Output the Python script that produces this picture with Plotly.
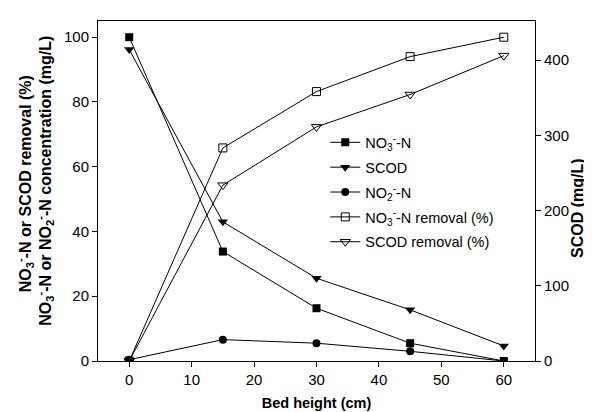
import plotly.graph_objects as go

bed_height = [0, 15, 30, 45, 60]
no3_n = [100, 33.8, 16.3, 5.5, 0]
scod = [414, 185, 110, 68, 20]
no2_n = [0.4, 6.6, 5.5, 3.0, 0]
no3_removal = [0, 65.8, 83.2, 94.0, 100]
scod_removal = [0, 54.3, 72.3, 82.3, 94.3]

names = ["NO<sub>3</sub><sup>-</sup>-N", "SCOD", "NO<sub>2</sub><sup>-</sup>-N",
         "NO<sub>3</sub><sup>-</sup>-N removal (%)", "SCOD removal (%)"]
left_title_1 = "<b>NO<sub>3</sub><sup>-</sup>-N or SCOD removal (%)</b>"
left_title_2 = "<b>NO<sub>3</sub><sup>-</sup>-N or NO<sub>2</sub><sup>-</sup>-N concentration (mg/L)</b>"
right_title = "<b>SCOD (mg/L)</b>"
x_title = "<b>Bed height (cm)</b>"

FONT = "Arial, Liberation Sans, sans-serif"
TITLE_SIZE = 14.5
YTITLE_SIZE = 16
line = dict(color="black", width=1)

fig = go.Figure()
fig.add_trace(go.Scatter(x=bed_height, y=no3_n, name=names[0], mode="lines+markers",
                         line=line, legendgroup="a",
                         marker=dict(symbol="square", size=8, color="black")))
fig.add_trace(go.Scatter(x=bed_height, y=scod, name=names[1], mode="lines+markers",
                         line=line, yaxis="y2", legendgroup="b",
                         marker=dict(symbol="triangle-down", size=9, color="black")))
fig.add_trace(go.Scatter(x=bed_height, y=no2_n, name=names[2], mode="lines+markers",
                         line=line, legendgroup="c",
                         marker=dict(symbol="circle", size=8, color="black")))
fig.add_trace(go.Scatter(x=bed_height, y=no3_removal, name=names[3], mode="lines+markers",
                         line=line, legendgroup="d",
                         marker=dict(symbol="square-open", size=8, color="black",
                                     line=dict(width=1, color="black"))))
fig.add_trace(go.Scatter(x=bed_height, y=scod_removal, name=names[4], mode="lines+markers",
                         line=line, legendgroup="e",
                         marker=dict(symbol="triangle-down-open", size=9, color="black",
                                     line=dict(width=1, color="black"))))

axis_common = dict(showgrid=False, zeroline=False, showline=True, linecolor="black",
                   linewidth=1, ticks="outside", ticklen=5, tickcolor="black",
                   tickfont=dict(family=FONT, size=15, color="black"))

fig.update_layout(
    width=592, height=412,
    margin=dict(l=90, r=65, t=13, b=59),
    paper_bgcolor="white", plot_bgcolor="white",
    font=dict(family=FONT, size=15, color="black"),
    showlegend=True,
    legend=dict(x=0.52, y=0.69, xanchor="left", yanchor="top",
                bgcolor="rgba(0,0,0,0)", traceorder="grouped", tracegroupgap=3,
                font=dict(family=FONT, size=14.5, color="black")),
    xaxis=dict(range=[-5, 65], tickvals=[0, 10, 20, 30, 40, 50, 60], mirror=True,
               title=dict(text=x_title, standoff=10,
                          font=dict(family=FONT, size=TITLE_SIZE)),
               **axis_common),
    yaxis=dict(range=[0, 105], tickvals=[0, 20, 40, 60, 80, 100], **axis_common),
    yaxis2=dict(range=[0, 452], tickvals=[0, 100, 200, 300, 400], overlaying="y",
                side="right", **axis_common),
    annotations=[
        dict(text=left_title_1, xref="paper", yref="paper", x=0, y=0.52,
             xshift=-73, xanchor="center", yanchor="middle", textangle=-90,
             showarrow=False, font=dict(family=FONT, size=YTITLE_SIZE, color="black")),
        dict(text=left_title_2, xref="paper", yref="paper", x=0, y=0.53,
             xshift=-53, xanchor="center", yanchor="middle", textangle=-90,
             showarrow=False, font=dict(family=FONT, size=YTITLE_SIZE, color="black")),
        dict(text=right_title, xref="paper", yref="paper", x=1, y=0.45,
             xshift=42, xanchor="center", yanchor="middle", textangle=-90,
             showarrow=False, font=dict(family=FONT, size=YTITLE_SIZE, color="black")),
    ],
)

fig.write_html("out.html")
